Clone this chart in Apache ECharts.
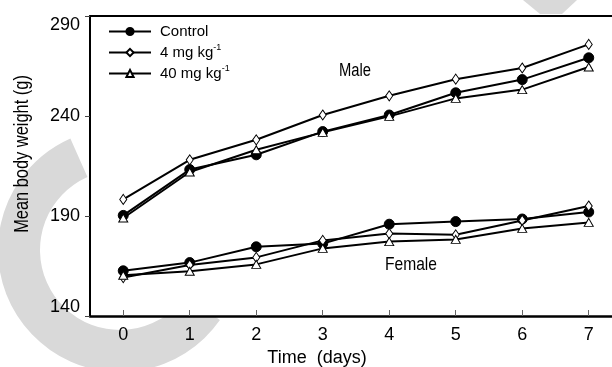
<!DOCTYPE html>
<html>
<head>
<meta charset="utf-8">
<script src="https://cdn.jsdelivr.net/npm/echarts@6/dist/echarts.min.js"></script>
<style>html,body{margin:0;padding:0;background:#fff;}#c{width:612px;height:367px;}</style>
</head>
<body>
<div id="c"></div>
<script>
const days = [0, 1, 2, 3, 4, 5, 6, 7];
const yTicks = [140, 190, 240, 290];
const seriesNames = ['Control', '4 mg kg-1', '40 mg kg-1'];
const maleControl = [190.3, 213.2, 220.6, 232.2, 240.5, 251.6, 258.2, 269.1];
const male4 = [198.3, 218.1, 228.1, 240.5, 250.1, 258.4, 264.0, 275.8];
const male40 = [189.0, 212.0, 223.1, 231.8, 239.8, 248.8, 253.2, 264.5];
const femaleControl = [162.6, 166.7, 174.6, 176.2, 185.9, 187.2, 188.5, 192.0];
const female4 = [159.2, 165.5, 169.3, 177.8, 181.2, 180.6, 187.8, 195.0];
const female40 = [160.4, 162.4, 165.8, 173.8, 177.2, 178.3, 183.8, 186.8];

const REG = "'Liberation Sans', Arial, sans-serif";

const symbols = {
  'Control': { symbol: 'circle', symbolSize: 10, itemStyle: { color: '#000', borderColor: '#000', borderWidth: 1 } },
  '4 mg kg-1': { symbol: 'diamond', symbolSize: [7, 10], itemStyle: { color: '#fff', borderColor: '#000', borderWidth: 1 } },
  '40 mg kg-1': { symbol: 'triangle', symbolSize: [9, 8], itemStyle: { color: '#fff', borderColor: '#000', borderWidth: 1 } }
};

function mk(name, values) {
  return Object.assign({
    type: 'line',
    name: name,
    data: days.map((d, i) => [d, values[i]]),
    lineStyle: { color: '#000', width: 2 },
    showAllSymbol: true,
    animation: false
  }, symbols[name]);
}

const chart = echarts.init(document.getElementById('c'), null, { renderer: 'canvas' });
chart.setOption({
  animation: false,
  backgroundColor: '#fff',
  grid: { left: 90, top: 16, right: 0, bottom: 51, show: true, backgroundColor: '#fff', borderWidth: 0,
    containLabel: false, outerBoundsMode: 'none' },
  xAxis: [{
    type: 'value', min: -0.5, max: 7.35, position: 'bottom',
    axisLine: { onZero: false, lineStyle: { color: '#000', width: 2.5 } },
    axisTick: { show: true, inside: true, length: 6, customValues: days, lineStyle: { color: '#666', width: 1 } },
    axisLabel: { customValues: days, fontSize: 18, color: '#000', margin: 10, fontFamily: REG },
    splitLine: { show: false },
    name: 'Time  (days)', nameLocation: 'middle', nameGap: 33,
    nameTextStyle: { fontSize: 18, color: '#000', fontFamily: REG, padding: [0, 68, 0, 0] }
  }, {
    type: 'value', min: -0.5, max: 7.35, position: 'top',
    axisLine: { show: true, onZero: false, lineStyle: { color: '#000', width: 2 } },
    axisTick: { show: false }, axisLabel: { show: false }, splitLine: { show: false }
  }],
  yAxis: {
    type: 'value', min: 140, max: 290,
    axisLine: { show: true, onZero: false, lineStyle: { color: '#000', width: 2 } },
    axisTick: { show: true, length: 5, customValues: yTicks, lineStyle: { color: '#444', width: 1 } },
    axisLabel: { customValues: yTicks, fontSize: 18, color: '#000', margin: 10, fontFamily: REG,
      verticalAlignMinLabel: 'bottom', verticalAlignMaxLabel: 'top' },
    splitLine: { show: false }
  },
  legend: {
    data: seriesNames,
    orient: 'vertical', left: 108, top: 22, padding: 0,
    itemWidth: 42, itemHeight: 9, itemGap: 2,
    formatter: function (n) { return n.replace('-1', '{sup|-1}'); },
    textStyle: { fontSize: 15, color: '#000', fontFamily: REG, lineHeight: 19, padding: [0, 0, 0, 4],
      rich: { sup: { fontSize: 9, fontFamily: REG, verticalAlign: 'top', lineHeight: 19, padding: [0, 0, 4, 0] } } }
  },
  graphic: [
    { type: 'sector', silent: true, z: -10,
      shape: { cx: 120, cy: 250, r0: 80, r: 122, startAngle: 35 * Math.PI / 180, endAngle: 246 * Math.PI / 180, clockwise: true },
      style: { fill: '#d9d9d9' } },
    { type: 'polygon', silent: true, z: -10,
      shape: { points: [[523, 0], [577, 0], [562, 14], [540, 14]] },
      style: { fill: '#d9d9d9' } },
    { type: 'text', x: 22, y: 154, rotation: Math.PI / 2, scaleX: 0.82, z: 10,
      style: { text: 'Mean body weight (g)', fontSize: 20, fontFamily: REG, fill: '#000', align: 'center', verticalAlign: 'middle' } },
    { type: 'text', x: 355, y: 71.5, scaleX: 0.82, z: 10,
      style: { text: 'Male', fontSize: 18, fontFamily: REG, fill: '#000', align: 'center', verticalAlign: 'middle' } },
    { type: 'text', x: 411, y: 265, scaleX: 0.82, z: 10,
      style: { text: 'Female', fontSize: 19, fontFamily: REG, fill: '#000', align: 'center', verticalAlign: 'middle' } }
  ],
  series: [
    mk('Control', maleControl), mk('4 mg kg-1', male4), mk('40 mg kg-1', male40),
    mk('Control', femaleControl), mk('4 mg kg-1', female4), mk('40 mg kg-1', female40)
  ]
});
</script>
</body>
</html>
